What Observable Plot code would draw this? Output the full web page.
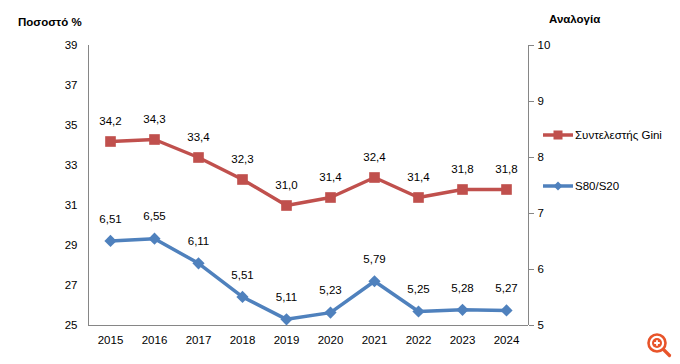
<!DOCTYPE html>
<html>
<head>
<meta charset="utf-8">
<script src="https://cdn.jsdelivr.net/npm/d3@7"></script>
<script src="https://cdn.jsdelivr.net/npm/@observablehq/plot@0.6"></script>
<style>
  body { margin: 0; background: #fff; font-family: "Liberation Sans", Arial, sans-serif; }
  #wrap { position: relative; width: 680px; height: 364px; }
  .title { position: absolute; font-weight: bold; font-size: 11.5px; color: #000; }
  .leg { position: absolute; font-size: 11.5px; color: #000; display: flex; align-items: center; }
  #zoom { position: absolute; left: 645px; top: 330px; }
</style>
</head>
<body>
<div id="wrap">
  <div id="chart"></div>
  <div class="title" style="left:18px; top:16px;">Ποσοστό %</div>
  <div class="title" style="left:549px; top:13px;">Αναλογία</div>
  <div class="leg" style="left:542px; top:127px;">
    <svg width="33" height="16"><line x1="1" y1="8" x2="31" y2="8" stroke="#C0504D" stroke-width="3.5"/><rect x="11.5" y="3.5" width="9" height="9" fill="#C0504D"/></svg>
    <span>Συντελεστής Gini</span>
  </div>
  <div class="leg" style="left:542px; top:178px;">
    <svg width="33" height="16"><line x1="1" y1="8" x2="31" y2="8" stroke="#4F81BD" stroke-width="3.5"/><path d="M16 3.5 L20.5 8 L16 12.5 L11.5 8 Z" fill="#4F81BD"/></svg>
    <span>S80/S20</span>
  </div>
  <svg id="zoom" width="32" height="32" viewBox="0 0 32 32">
    <circle cx="12" cy="13" r="8.5" fill="none" stroke="#E8542A" stroke-width="2.6"/>
    <circle cx="12" cy="13" r="5" fill="#E8542A"/>
    <path d="M12 10.2 V15.8 M9.2 13 H14.8" stroke="#fff" stroke-width="1.8"/>
    <path d="M18.5 19.5 L24.5 25.5" stroke="#E8542A" stroke-width="3.2" stroke-linecap="round"/>
  </svg>
</div>
<script>
const years = [2015, 2016, 2017, 2018, 2019, 2020, 2021, 2022, 2023, 2024];
const gini = [34.2, 34.3, 33.4, 32.3, 31.0, 31.4, 32.4, 31.4, 31.8, 31.8];
const s80s20 = [6.51, 6.55, 6.11, 5.51, 5.11, 5.23, 5.79, 5.25, 5.28, 5.27];
const leftTicks = [25, 27, 29, 31, 33, 35, 37, 39];
const rightTicks = [5, 6, 7, 8, 9, 10];

const leftDomain = [25, 39];
const rightDomain = [5, 10];
const toLeft = v => leftDomain[0] + (v - rightDomain[0]) * (leftDomain[1] - leftDomain[0]) / (rightDomain[1] - rightDomain[0]);
const fromLeft = v => rightDomain[0] + (v - leftDomain[0]) * (rightDomain[1] - rightDomain[0]) / (leftDomain[1] - leftDomain[0]);

const giniData = years.map((y, i) => ({year: y, value: gini[i]}));
const sData = years.map((y, i) => ({year: y, value: s80s20[i], yl: toLeft(s80s20[i])}));

const red = "#C0504D", blue = "#4F81BD", axisCol = "#868686";

const chart = Plot.plot({
  width: 680,
  height: 364,
  marginLeft: 88,
  marginRight: 152,
  marginTop: 45,
  marginBottom: 39,
  style: {fontFamily: "Liberation Sans, Arial, sans-serif", fontSize: "11.5px", color: "#000", background: "transparent"},
  x: {type: "linear", domain: [years[0] - 0.5, years[years.length - 1] + 0.5]},
  y: {domain: leftDomain},
  marks: [
    Plot.ruleY([leftDomain[0]], {stroke: axisCol, strokeWidth: 1}),
    Plot.ruleX([years[0] - 0.5, years[years.length - 1] + 0.5], {stroke: axisCol, strokeWidth: 1}),
    Plot.axisX(years, {tickSize: 0, tickPadding: 10, tickFormat: d => String(d), label: null, fill: "#000"}),
    Plot.axisY(leftTicks, {anchor: "left", tickSize: 0, tickPadding: 11, label: null, fill: "#000"}),
    Plot.axisY(rightTicks.map(toLeft), {anchor: "right", tickSize: 5, tickPadding: 4, stroke: axisCol, label: null, fill: "#000",
      tickFormat: d => String(Math.round(fromLeft(d)))}),
    Plot.line(giniData, {x: "year", y: "value", stroke: red, strokeWidth: 3.5}),
    Plot.dot(giniData, {x: "year", y: "value", symbol: "square", r: 6, fill: red, stroke: null}),
    Plot.text(giniData, {x: "year", y: "value", text: d => d.value.toFixed(1).replace(".", ","), dy: -20, fill: "#000"}),
    Plot.line(sData, {x: "year", y: "yl", stroke: blue, strokeWidth: 3.5}),
    Plot.dot(sData, {x: "year", y: "yl", symbol: "diamond2", r: 5.5, fill: blue, stroke: null}),
    Plot.text(sData, {x: "year", y: "yl", text: d => d.value.toFixed(2).replace(".", ","), dy: -22, fill: "#000"})
  ]
});
document.getElementById("chart").appendChild(chart);
</script>
</body>
</html>
